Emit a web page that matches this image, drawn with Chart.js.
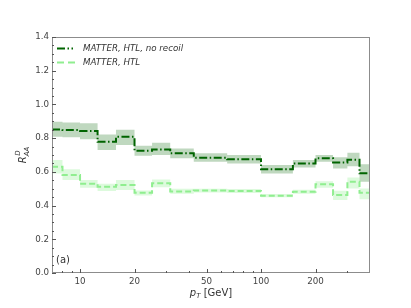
<!DOCTYPE html>
<html>
<head>
<meta charset="utf-8">
<script src="https://cdn.jsdelivr.net/npm/chart.js@4.4.1/dist/chart.umd.min.js"></script>
<style>
  html, body { margin: 0; padding: 0; background: #ffffff; }
  #wrap { width: 411px; height: 308px; position: relative; }
</style>
</head>
<body>
<div id="wrap"><canvas id="c" width="411" height="308"></canvas></div>
<script>
// ---- data ----
const binEdges = [7, 8, 10, 12.5, 15.8, 20, 25, 31.5, 42.5, 65, 100, 150, 200, 250, 300, 350, 400];

const noRecoilVals = [0.852, 0.848, 0.843, 0.778, 0.808, 0.725, 0.733, 0.71, 0.683, 0.675, 0.615, 0.65, 0.68, 0.656, 0.672, 0.591];
const noRecoilLow  = [0.808, 0.805, 0.794, 0.729, 0.76, 0.695, 0.70, 0.68, 0.66, 0.65, 0.59, 0.626, 0.66, 0.62, 0.634, 0.541];
const noRecoilHigh = [0.897, 0.893, 0.889, 0.822, 0.85, 0.755, 0.772, 0.739, 0.71, 0.70, 0.64, 0.67, 0.70, 0.686, 0.713, 0.645];

const htlVals = [0.63, 0.581, 0.53, 0.512, 0.522, 0.476, 0.532, 0.484, 0.49, 0.487, 0.458, 0.482, 0.527, 0.462, 0.541, 0.476];
const htlLow  = [0.59, 0.551, 0.506, 0.486, 0.492, 0.46, 0.508, 0.47, 0.478, 0.475, 0.449, 0.47, 0.505, 0.433, 0.502, 0.437];
const htlHigh = [0.67, 0.616, 0.551, 0.53, 0.551, 0.49, 0.555, 0.50, 0.50, 0.498, 0.468, 0.494, 0.545, 0.488, 0.567, 0.502];

const seriesNames = ["MATTER, HTL, no recoil", "MATTER, HTL"];
const xTickLabels = [10, 20, 50, 100, 200];
const xMinorTicks = [8, 9, 30, 40, 60, 70, 80, 90, 300];
const yTickLabels = [0, 0.2, 0.4, 0.6, 0.8, 1.0, 1.2, 1.4];

// ---- helpers ----
function steps(vals) {
  return binEdges.map((e, i) => ({ x: e, y: vals[Math.min(i, vals.length - 1)] }));
}
const DARK = 'rgb(0,100,0)';
const DARK_BAND = 'rgba(0,100,0,0.25)';
const LIGHT = 'rgb(144,238,144)';
const LIGHT_BAND = 'rgba(144,238,144,0.3)';
const FONT = "'DejaVu Sans', sans-serif";

const decorations = {
  id: 'decorations',
  afterDraw(chart) {
    const ctx = chart.ctx;
    const a = chart.chartArea;
    const xs = chart.scales.x, ys = chart.scales.y;
    ctx.save();
    // frame
    ctx.strokeStyle = '#8c8c8c';
    ctx.lineWidth = 1;
    ctx.strokeRect(Math.round(a.left) + 0.5, Math.round(a.top) + 0.5,
                   Math.round(a.right - a.left) - 1, Math.round(a.bottom - a.top) - 1);
    // y ticks (inward)
    ctx.strokeStyle = '#555';
    ctx.beginPath();
    for (let v = 0; v <= 1.4001; v += 0.05) {
      const y = Math.round(ys.getPixelForValue(v)) + 0.5;
      const major = Math.abs(v / 0.2 - Math.round(v / 0.2)) < 1e-6;
      const len = major ? 4 : 2;
      ctx.moveTo(a.left, y); ctx.lineTo(a.left + len, y);
    }
    // x ticks (inward)
    xTickLabels.forEach(v => {
      const x = Math.round(xs.getPixelForValue(v)) + 0.5;
      ctx.moveTo(x, a.bottom); ctx.lineTo(x, a.bottom - 4);
    });
    xMinorTicks.forEach(v => {
      const x = Math.round(xs.getPixelForValue(v)) + 0.5;
      ctx.moveTo(x, a.bottom); ctx.lineTo(x, a.bottom - 2);
    });
    ctx.stroke();

    // legend
    const lx = 57, ly1 = 48.5, ly2 = 62.5;
    ctx.lineWidth = 2;
    ctx.strokeStyle = DARK;
    ctx.setLineDash([8, 2.5, 1.5, 2.5]);
    ctx.beginPath(); ctx.moveTo(lx, ly1); ctx.lineTo(lx + 16, ly1); ctx.stroke();
    ctx.strokeStyle = LIGHT;
    ctx.setLineDash([7, 4]);
    ctx.beginPath(); ctx.moveTo(lx, ly2); ctx.lineTo(lx + 18, ly2); ctx.stroke();
    ctx.setLineDash([]);
    ctx.fillStyle = '#333';
    ctx.font = "italic 8.7px " + FONT;
    ctx.textAlign = 'left';
    ctx.textBaseline = 'middle';
    ctx.fillText(seriesNames[0], 83, ly1);
    ctx.fillText(seriesNames[1], 83, ly2);

    // panel label
    ctx.font = "10px " + FONT;
    ctx.fillText("(a)", 56, 260);

    // x title: p_T [GeV]
    ctx.fillStyle = '#333';
    ctx.textBaseline = 'alphabetic';
    const xc = (a.left + a.right) / 2;
    const base = 296;
    ctx.font = "italic 10px " + FONT;
    const wp = ctx.measureText("p").width;
    ctx.font = "italic 7px " + FONT;
    const wT = ctx.measureText("T").width;
    ctx.font = "10px " + FONT;
    const wr = ctx.measureText(" [GeV]").width;
    let x0 = xc - (wp + wT + wr) / 2;
    ctx.font = "italic 10px " + FONT;
    ctx.fillText("p", x0, base);
    ctx.font = "italic 7px " + FONT;
    ctx.fillText("T", x0 + wp, base + 2);
    ctx.font = "10px " + FONT;
    ctx.fillText(" [GeV]", x0 + wp + wT, base);

    // y title: R_AA^D
    ctx.save();
    ctx.translate(26, (a.top + a.bottom) / 2);
    ctx.rotate(-Math.PI / 2);
    ctx.font = "italic 10px " + FONT;
    const wR = ctx.measureText("R").width;
    ctx.font = "italic 7px " + FONT;
    const wAA = ctx.measureText("AA").width;
    const tot = wR + wAA;
    const s0 = -tot / 2;
    ctx.font = "italic 10px " + FONT;
    ctx.fillText("R", s0, 0);
    ctx.font = "italic 7px " + FONT;
    ctx.fillText("AA", s0 + wR, 2.5);
    ctx.fillText("D", s0 + wR + 0.5, -6);
    ctx.restore();

    ctx.restore();
  }
};

const datasets = [
  { label: 'nrLow', data: steps(noRecoilLow), stepped: true, borderWidth: 0, pointRadius: 0, fill: false, order: 10 },
  { label: 'nrHigh', data: steps(noRecoilHigh), stepped: true, borderWidth: 0, pointRadius: 0, fill: '-1', backgroundColor: DARK_BAND, order: 10 },
  { label: 'htlLow', data: steps(htlLow), stepped: true, borderWidth: 0, pointRadius: 0, fill: false, order: 10 },
  { label: 'htlHigh', data: steps(htlHigh), stepped: true, borderWidth: 0, pointRadius: 0, fill: '-1', backgroundColor: LIGHT_BAND, order: 10 },
  { label: seriesNames[0], data: steps(noRecoilVals), stepped: true, borderColor: DARK, borderWidth: 2, borderDash: [8, 2.5, 1.5, 2.5], pointRadius: 0, fill: false, order: 1 },
  { label: seriesNames[1], data: steps(htlVals), stepped: true, borderColor: LIGHT, borderWidth: 2, borderDash: [6, 3], pointRadius: 0, fill: false, order: 2 }
];

new Chart(document.getElementById('c'), {
  type: 'line',
  data: { datasets },
  options: {
    responsive: false,
    animation: false,
    devicePixelRatio: 1,
    layout: { padding: { top: 37, right: 41, left: 0, bottom: 0 } },
    plugins: { legend: { display: false }, tooltip: { enabled: false } },
    scales: {
      x: {
        type: 'logarithmic',
        min: 7, max: 400,
        grid: { display: false, drawTicks: false },
        border: { display: false },
        afterBuildTicks: s => { s.ticks = xTickLabels.map(v => ({ value: v })); },
        afterFit: s => { s.height = 35; },
        ticks: {
          autoSkip: false, maxRotation: 0, padding: 4,
          color: '#444', font: { family: FONT, size: 8.7 },
          callback: v => String(v)
        }
      },
      y: {
        type: 'linear',
        min: 0, max: 1.4,
        grid: { display: false, drawTicks: false },
        border: { display: false },
        afterBuildTicks: s => { s.ticks = yTickLabels.map(v => ({ value: v })); },
        afterFit: s => { s.width = 52; },
        ticks: {
          padding: 3,
          color: '#444', font: { family: FONT, size: 8.7 },
          callback: v => Number(v).toFixed(1)
        }
      }
    }
  },
  plugins: [decorations]
});
</script>
</body>
</html>
